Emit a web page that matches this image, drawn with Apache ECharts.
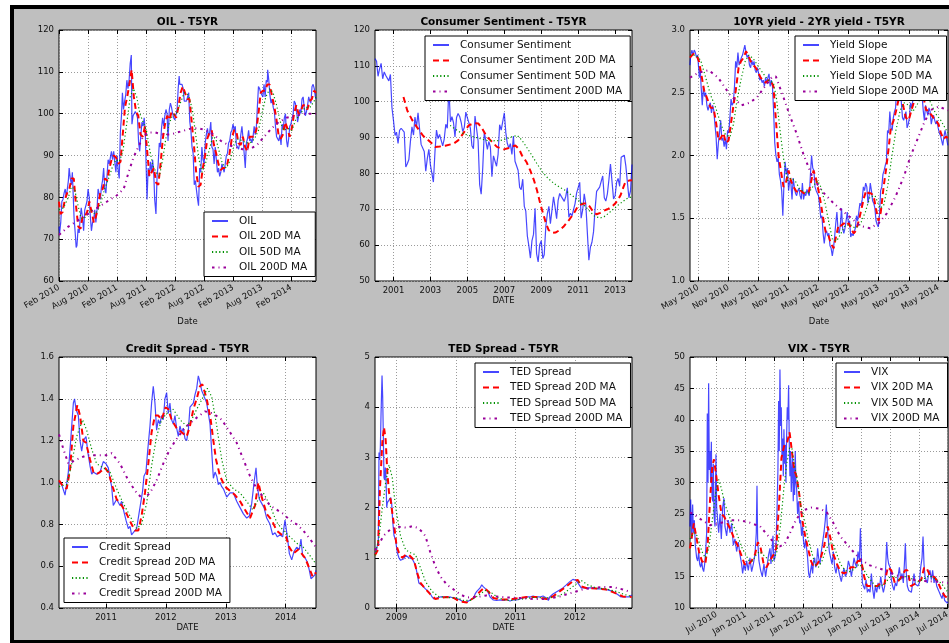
<!DOCTYPE html>
<html>
<head>
<meta charset="utf-8">
<script src="https://cdn.jsdelivr.net/npm/echarts@6/dist/echarts.min.js"></script>
<style>
  html, body { margin: 0; padding: 0; background: #fff; }
  body { width: 949px; height: 643px; position: relative; overflow: hidden; }
  #frame { position: absolute; left: 10px; top: 5px; width: 960px; height: 638px; box-sizing: border-box;
           background: #bfbfbf; border-left: 4.5px solid #000; border-top: 4px solid #000; border-bottom: 3px solid #000; }
  #chart { position: absolute; left: 0; top: 0; width: 949px; height: 643px; }
</style>
</head>
<body>
<div id="frame"></div>
<div id="chart"></div>
<script>
// ---- Dates are 'YYYY-MM-DD' strings or decimal years ----

// OIL (WTI) daily close and moving averages
const oilSpot = [
['2010-02-01',73],['2010-02-05',71.5],['2010-02-12',74],['2010-02-19',79],['2010-02-26',79.5],['2010-03-05',81],['2010-03-12',82],['2010-03-19',80],['2010-03-26',80],
['2010-04-01',84],['2010-04-06',87],['2010-04-13',84.5],['2010-04-20',83],['2010-04-26',86],['2010-05-03',86],['2010-05-07',75],['2010-05-14',71.5],['2010-05-20',68],['2010-05-25',68.5],
['2010-06-01',72.5],['2010-06-08',71.5],['2010-06-14',75],['2010-06-21',77.5],['2010-06-29',75],['2010-07-06',72],['2010-07-13',77],['2010-07-20',77],['2010-07-27',79],
['2010-08-03',82],['2010-08-10',80],['2010-08-17',75.5],['2010-08-24',72],['2010-08-31',74],['2010-09-07',74.5],['2010-09-14',77],['2010-09-21',74],['2010-09-28',77],
['2010-10-05',82],['2010-10-12',82],['2010-10-19',79.5],['2010-10-26',82.5],['2010-11-02',84],['2010-11-09',87],['2010-11-16',82],['2010-11-23',81],['2010-11-30',85],
['2010-12-07',89],['2010-12-14',88],['2010-12-21',89.5],['2010-12-28',91],['2011-01-04',89],['2011-01-11',91],['2011-01-18',91],['2011-01-25',86],['2011-02-01',90],
['2011-02-08',86.5],['2011-02-15',84.5],['2011-02-22',95.5],['2011-03-01',99.5],['2011-03-07',105],['2011-03-14',101],['2011-03-21',103],['2011-03-28',104.5],
['2011-04-04',108],['2011-04-11',106],['2011-04-18',108],['2011-04-25',112],['2011-05-02',114],['2011-05-06',97.5],['2011-05-13',99.5],['2011-05-20',100],['2011-05-27',100.5],
['2011-06-03',100],['2011-06-10',99],['2011-06-17',93],['2011-06-24',91],['2011-07-01',95],['2011-07-08',98],['2011-07-15',97],['2011-07-22',99],['2011-07-29',95.5],
['2011-08-04',86.5],['2011-08-09',79.5],['2011-08-16',87],['2011-08-23',85],['2011-08-30',88.5],['2011-09-06',86],['2011-09-13',89],['2011-09-20',86],['2011-09-26',79.5],
['2011-10-04',76],['2011-10-11',85],['2011-10-18',88],['2011-10-25',93],['2011-11-01',92],['2011-11-08',96.5],['2011-11-15',99],['2011-11-22',97],['2011-11-29',99.5],
['2011-12-06',101],['2011-12-13',100],['2011-12-19',93.5],['2011-12-27',101],['2012-01-03',102.5],['2012-01-10',101.5],['2012-01-17',100],['2012-01-24',99],['2012-01-31',98.5],
['2012-02-07',98.5],['2012-02-14',101],['2012-02-21',106],['2012-02-27',109],['2012-03-02',107],['2012-03-09',107],['2012-03-16',107],['2012-03-23',106],['2012-03-30',103],
['2012-04-06',103],['2012-04-13',103],['2012-04-20',104],['2012-04-27',105],['2012-05-04',98],['2012-05-11',96],['2012-05-18',92],['2012-05-25',90.5],
['2012-06-01',83],['2012-06-08',84],['2012-06-15',84],['2012-06-22',79.5],['2012-06-28',78],['2012-07-05',87],['2012-07-12',86],['2012-07-19',92],['2012-07-26',89],
['2012-08-02',88],['2012-08-09',93],['2012-08-16',95],['2012-08-23',96.5],['2012-08-30',94.5],['2012-09-06',95.5],['2012-09-13',98],['2012-09-20',92],['2012-09-27',91.5],
['2012-10-04',88],['2012-10-11',92],['2012-10-18',92],['2012-10-25',86],['2012-11-01',87],['2012-11-08',85],['2012-11-15',86],['2012-11-22',88],['2012-11-29',88],
['2012-12-06',86],['2012-12-13',86],['2012-12-20',90],['2012-12-27',90.5],['2013-01-03',93],['2013-01-10',93.5],['2013-01-17',95.5],['2013-01-24',96],['2013-01-31',97.5],
['2013-02-07',96],['2013-02-14',97],['2013-02-21',92.5],['2013-02-28',92],['2013-03-07',91.5],['2013-03-14',93],['2013-03-21',93],['2013-03-28',97],
['2013-04-04',94],['2013-04-11',94],['2013-04-18',87],['2013-04-25',93],['2013-05-02',94],['2013-05-09',96],['2013-05-16',93.5],['2013-05-23',94],['2013-05-30',93],
['2013-06-06',94.5],['2013-06-13',97],['2013-06-20',95],['2013-06-27',97],['2013-07-03',101.5],['2013-07-10',106.5],['2013-07-17',106],['2013-07-24',105],['2013-07-31',105],
['2013-08-07',104],['2013-08-14',107],['2013-08-21',104],['2013-08-28',108],['2013-09-04',107.5],['2013-09-06',110.5],['2013-09-13',108],['2013-09-20',104.5],['2013-09-27',102.5],
['2013-10-04',103.5],['2013-10-11',101.5],['2013-10-18',100.5],['2013-10-25',97],['2013-11-01',94.5],['2013-11-08',94.5],['2013-11-15',93.5],['2013-11-22',95],['2013-11-29',92.5],
['2013-12-06',97.5],['2013-12-13',96.5],['2013-12-20',99],['2013-12-27',100],['2014-01-03',93.5],['2014-01-09',92],['2014-01-16',94],['2014-01-23',97],['2014-01-30',97.5],
['2014-02-06',97.5],['2014-02-13',100],['2014-02-20',103],['2014-02-27',102.5],['2014-03-06',101],['2014-03-13',98],['2014-03-20',99.5],['2014-03-27',101],
['2014-04-03',100],['2014-04-10',103.5],['2014-04-17',104],['2014-04-24',101.5],['2014-05-01',99.5],['2014-05-08',100.5],['2014-05-15',102],['2014-05-22',104],['2014-05-29',103],
['2014-06-05',102.5],['2014-06-12',106.5],['2014-06-19',107],['2014-06-26',106],['2014-07-03',104],['2014-07-07',103.5]
];
const oil20 = [
['2010-02-01',79],['2010-02-10',76],['2010-02-24',76.5],['2010-03-10',79.5],['2010-03-24',81],['2010-04-07',82],['2010-04-21',84.5],['2010-05-05',84.5],['2010-05-19',78],
['2010-06-02',73],['2010-06-16',72.5],['2010-06-30',75.5],['2010-07-14',75.5],['2010-07-28',76.5],['2010-08-11',79],['2010-08-25',76.5],['2010-09-08',74],['2010-09-22',75.5],
['2010-10-06',78],['2010-10-20',81.5],['2010-11-03',82],['2010-11-17',84.5],['2010-12-01',84],['2010-12-15',87],['2010-12-29',89],['2011-01-12',90],['2011-01-26',89.5],
['2011-02-09',88],['2011-02-23',88.5],['2011-03-09',95],['2011-03-23',101.5],['2011-04-06',104],['2011-04-20',107],['2011-05-04',110.5],['2011-05-18',104],['2011-06-01',100.5],
['2011-06-15',99.5],['2011-06-29',95],['2011-07-13',94.5],['2011-07-27',97],['2011-08-10',91],['2011-08-24',85],['2011-09-07',86],['2011-09-21',87],['2011-10-05',83.5],
['2011-10-19',83],['2011-11-02',88],['2011-11-16',94],['2011-11-30',97.5],['2011-12-14',99.5],['2011-12-28',98.5],['2012-01-11',100.5],['2012-01-25',100],['2012-02-08',99],
['2012-02-22',101.5],['2012-03-07',105],['2012-03-21',106.5],['2012-04-04',105],['2012-04-18',103.5],['2012-05-02',103.5],['2012-05-16',98],['2012-05-30',92.5],
['2012-06-13',86],['2012-06-27',82.5],['2012-07-11',83],['2012-07-25',87],['2012-08-08',90],['2012-08-22',94],['2012-09-05',95.5],['2012-09-19',96],['2012-10-03',92.5],
['2012-10-17',90.5],['2012-10-31',88],['2012-11-14',86.5],['2012-11-28',87],['2012-12-12',87],['2012-12-26',88],['2013-01-09',90.5],['2013-01-23',94],['2013-02-06',96],
['2013-02-20',96],['2013-03-06',93],['2013-03-20',92.5],['2013-04-03',94.5],['2013-04-17',92],['2013-05-01',91],['2013-05-15',94.5],['2013-05-29',94.5],['2013-06-12',94.5],
['2013-06-26',96],['2013-07-10',100],['2013-07-24',105],['2013-08-07',105.5],['2013-08-21',105.5],['2013-09-04',107],['2013-09-18',107],['2013-10-02',104.5],['2013-10-16',102],
['2013-10-30',99],['2013-11-13',95],['2013-11-27',94],['2013-12-11',95],['2013-12-25',98],['2014-01-08',96.5],['2014-01-22',94.5],['2014-02-05',96.5],['2014-02-19',100],
['2014-03-05',102],['2014-03-19',100],['2014-04-02',100.5],['2014-04-16',102],['2014-04-30',102],['2014-05-14',101],['2014-05-28',103],['2014-06-11',103.5],['2014-06-25',105.5],
['2014-07-07',105]
];
const oil50 = [
['2010-02-01',77],['2010-03-01',77.5],['2010-04-01',80],['2010-04-20',82.5],['2010-05-10',82],['2010-06-01',78],['2010-06-20',75],['2010-07-10',75],['2010-08-01',76],
['2010-08-25',77],['2010-09-15',76],['2010-10-05',77],['2010-10-25',79],['2010-11-15',82],['2010-12-10',84.5],['2011-01-01',87],['2011-01-25',89],['2011-02-15',88.5],
['2011-03-10',91],['2011-04-01',97],['2011-04-25',104],['2011-05-15',106],['2011-06-05',104],['2011-06-25',100],['2011-07-15',98],['2011-08-05',96],['2011-08-25',91.5],
['2011-09-15',87.5],['2011-10-05',86],['2011-10-25',85],['2011-11-15',89],['2011-12-05',94],['2011-12-25',97.5],['2012-01-15',99.5],['2012-02-10',100],['2012-03-05',102.5],
['2012-03-30',105],['2012-04-25',104.5],['2012-05-20',101],['2012-06-10',95],['2012-07-01',89],['2012-07-20',86],['2012-08-10',88],['2012-09-01',91],['2012-09-25',94.5],
['2012-10-15',94],['2012-11-05',91],['2012-11-25',88],['2012-12-20',87],['2013-01-15',89],['2013-02-10',93],['2013-03-05',94],['2013-03-30',93.5],['2013-04-25',93],
['2013-05-20',93],['2013-06-15',94],['2013-07-10',96],['2013-08-01',100],['2013-08-25',104],['2013-09-20',106],['2013-10-10',105],['2013-11-01',102],['2013-11-25',98],
['2013-12-15',96],['2014-01-10',96.5],['2014-02-05',96],['2014-03-01',98.5],['2014-03-30',100],['2014-04-30',101.5],['2014-05-30',101.5],['2014-06-25',103],['2014-07-07',104]
];
const oil200 = [
['2010-02-01',71],['2010-04-01',73],['2010-06-01',74.5],['2010-08-01',76],['2010-10-01',77.5],['2010-12-01',79],['2011-02-01',80.5],['2011-03-15',82],['2011-04-15',86],
['2011-05-15',89.5],['2011-06-15',92],['2011-07-15',94.5],['2011-08-15',95.5],['2011-10-01',95.5],['2011-11-15',95],['2012-01-01',95],['2012-02-15',95.5],['2012-04-01',96],
['2012-05-15',96.5],['2012-07-01',96.5],['2012-08-15',96],['2012-10-01',95],['2012-11-15',93.5],['2013-01-01',92.5],['2013-02-15',92],['2013-04-01',91.5],['2013-05-15',91.5],
['2013-07-01',92.5],['2013-08-15',94.5],['2013-10-01',96.5],['2013-11-15',98],['2014-01-01',99],['2014-03-01',99.5],['2014-05-01',100],['2014-07-07',100]
];

// Consumer Sentiment (monthly) and moving averages
const sentiment = [
['2000-01-01',112.0],['2000-02-01',111.3],['2000-03-01',107.1],['2000-04-01',109.2],['2000-05-01',110.7],['2000-06-01',106.4],['2000-07-01',108.3],['2000-08-01',107.3],['2000-09-01',106.8],['2000-10-01',105.8],['2000-11-01',107.6],['2000-12-01',98.4],
['2001-01-01',94.7],['2001-02-01',90.6],['2001-03-01',91.5],['2001-04-01',88.4],['2001-05-01',92.0],['2001-06-01',92.6],['2001-07-01',92.4],['2001-08-01',91.5],['2001-09-01',81.8],['2001-10-01',82.7],['2001-11-01',83.9],['2001-12-01',88.8],
['2002-01-01',93.0],['2002-02-01',90.7],['2002-03-01',95.7],['2002-04-01',93.0],['2002-05-01',96.9],['2002-06-01',92.4],['2002-07-01',88.1],['2002-08-01',87.6],['2002-09-01',86.1],['2002-10-01',80.6],['2002-11-01',84.2],['2002-12-01',86.7],
['2003-01-01',82.4],['2003-02-01',79.9],['2003-03-01',77.6],['2003-04-01',86.0],['2003-05-01',92.1],['2003-06-01',89.7],['2003-07-01',90.9],['2003-08-01',89.3],['2003-09-01',87.7],['2003-10-01',89.6],['2003-11-01',93.7],['2003-12-01',92.6],
['2004-01-01',103.8],['2004-02-01',94.4],['2004-03-01',95.8],['2004-04-01',94.2],['2004-05-01',90.2],['2004-06-01',95.6],['2004-07-01',96.7],['2004-08-01',95.9],['2004-09-01',94.2],['2004-10-01',91.7],['2004-11-01',92.8],['2004-12-01',97.1],
['2005-01-01',95.5],['2005-02-01',94.1],['2005-03-01',92.6],['2005-04-01',87.7],['2005-05-01',86.9],['2005-06-01',96.0],['2005-07-01',96.5],['2005-08-01',89.1],['2005-09-01',76.9],['2005-10-01',74.2],['2005-11-01',81.6],['2005-12-01',91.5],
['2006-01-01',91.2],['2006-02-01',86.7],['2006-03-01',88.9],['2006-04-01',87.4],['2006-05-01',79.1],['2006-06-01',84.9],['2006-07-01',84.7],['2006-08-01',82.0],['2006-09-01',85.4],['2006-10-01',93.6],['2006-11-01',92.1],['2006-12-01',91.7],
['2007-01-01',96.9],['2007-02-01',91.3],['2007-03-01',88.4],['2007-04-01',87.1],['2007-05-01',88.3],['2007-06-01',85.3],['2007-07-01',90.4],['2007-08-01',83.4],['2007-09-01',83.4],['2007-10-01',80.9],['2007-11-01',76.1],['2007-12-01',75.5],
['2008-01-01',78.4],['2008-02-01',70.8],['2008-03-01',69.5],['2008-04-01',62.6],['2008-05-01',59.8],['2008-06-01',56.4],['2008-07-01',61.2],['2008-08-01',63.0],['2008-09-01',70.3],['2008-10-01',57.6],['2008-11-01',55.3],['2008-12-01',60.1],
['2009-01-01',61.2],['2009-02-01',56.3],['2009-03-01',57.3],['2009-04-01',65.1],['2009-05-01',68.7],['2009-06-01',70.8],['2009-07-01',66.0],['2009-08-01',65.7],['2009-09-01',73.5],['2009-10-01',70.6],['2009-11-01',67.4],['2009-12-01',72.5],
['2010-01-01',74.4],['2010-02-01',73.6],['2010-03-01',73.6],['2010-04-01',72.2],['2010-05-01',73.6],['2010-06-01',76.0],['2010-07-01',67.8],['2010-08-01',68.9],['2010-09-01',68.2],['2010-10-01',67.7],['2010-11-01',71.6],['2010-12-01',74.5],
['2011-01-01',74.2],['2011-02-01',77.5],['2011-03-01',67.5],['2011-04-01',69.8],['2011-05-01',74.3],['2011-06-01',71.5],['2011-07-01',63.7],['2011-08-01',55.8],['2011-09-01',59.5],['2011-10-01',60.8],['2011-11-01',63.7],['2011-12-01',69.9],
['2012-01-01',75.0],['2012-02-01',75.3],['2012-03-01',76.2],['2012-04-01',76.4],['2012-05-01',79.3],['2012-06-01',73.2],['2012-07-01',72.3],['2012-08-01',74.3],['2012-09-01',78.3],['2012-10-01',82.6],['2012-11-01',82.7],['2012-12-01',72.9],
['2013-01-01',73.8],['2013-02-01',77.6],['2013-03-01',78.6],['2013-04-01',76.4],['2013-05-01',84.5],['2013-06-01',84.1],['2013-07-01',85.1],['2013-08-01',82.1],['2013-09-01',77.5],['2013-10-01',73.2],['2013-11-01',75.1],['2013-12-01',82.5]
];
const sentiment20 = [
[2001.54,101.3],[2001.75,97.5],[2002.0,95],[2002.27,92.9],[2002.6,90.5],[2002.99,88.8],[2003.26,87.4],[2003.5,87.5],[2003.8,87.7],[2004.25,88.3],[2004.5,89.2],[2004.7,90.6],
[2005.07,93.4],[2005.35,94],[2005.6,93.9],[2005.8,92.5],[2006.06,90.2],[2006.3,89],[2006.6,87.4],[2006.97,86.7],[2007.2,87],[2007.4,87.4],[2007.6,87.8],[2007.8,86.8],
[2007.96,85],[2008.2,83.2],[2008.4,80.9],[2008.6,78.2],[2008.77,75.3],[2008.95,71.5],[2009.1,68.8],[2009.25,66.2],[2009.4,64.2],[2009.6,63.4],[2009.77,63.5],[2010.0,64.2],
[2010.2,65.1],[2010.5,67],[2010.76,68.8],[2010.95,70.5],[2011.1,71.2],[2011.3,71.6],[2011.48,71.6],[2011.62,70.8],[2011.75,69.8],[2011.88,69],[2012.0,68.6],[2012.2,69],
[2012.4,69.6],[2012.58,70],[2012.75,70.5],[2012.88,71],[2013.0,71.6],[2013.15,72.6],[2013.3,74],[2013.45,76.2],[2013.56,77.6],[2013.75,78],[2013.92,78.1]
];
const sentiment50 = [
[2004.07,93.4],[2004.3,92.5],[2004.6,91.5],[2005.0,90.7],[2005.34,90.2],[2005.7,89.7],[2006.06,89.2],[2006.4,89.1],[2006.8,89.2],[2007.1,89.6],[2007.4,90.2],[2007.7,90.6],
[2007.95,89.3],[2008.2,87.4],[2008.5,85],[2008.77,82.7],[2009.05,80.5],[2009.3,79],[2009.55,77.8],[2009.77,76.9],[2010.05,76],[2010.3,75.3],[2010.55,74.3],[2010.76,73.5],
[2011.05,72.3],[2011.3,71.2],[2011.55,69.9],[2011.75,68.8],[2011.9,68],[2012.0,67.5],[2012.2,67.6],[2012.4,67.9],[2012.65,68.9],[2012.9,70],[2013.15,71.1],[2013.4,72.1],
[2013.65,73],[2013.92,73.5]
];
const sentiment200 = [];

// 10YR yield - 2YR yield and moving averages
const slope = [
['2010-03-11',2.72],['2010-03-16',2.80],['2010-03-23',2.84],['2010-03-30',2.80],['2010-04-06',2.84],['2010-04-13',2.82],['2010-04-20',2.78],['2010-04-27',2.80],['2010-05-04',2.68],
['2010-05-07',2.62],['2010-05-12',2.70],['2010-05-18',2.55],['2010-05-25',2.40],['2010-06-01',2.55],['2010-06-08',2.47],['2010-06-15',2.50],['2010-06-22',2.40],['2010-06-29',2.36],
['2010-07-06',2.40],['2010-07-13',2.42],['2010-07-20',2.34],['2010-07-27',2.40],['2010-08-03',2.36],['2010-08-10',2.25],['2010-08-17',2.15],['2010-08-24',1.97],['2010-08-31',2.10],
['2010-09-07',2.18],['2010-09-14',2.28],['2010-09-21',2.12],['2010-09-28',2.14],['2010-10-05',2.07],['2010-10-12',2.13],['2010-10-19',2.05],['2010-10-26',2.20],['2010-11-02',2.18],
['2010-11-09',2.30],['2010-11-16',2.45],['2010-11-23',2.40],['2010-11-30',2.42],['2010-12-07',2.55],['2010-12-14',2.75],['2010-12-21',2.70],['2010-12-28',2.82],['2011-01-04',2.72],
['2011-01-11',2.75],['2011-01-18',2.78],['2011-01-25',2.80],['2011-02-01',2.80],['2011-02-08',2.88],['2011-02-15',2.82],['2011-02-22',2.78],['2011-03-01',2.80],['2011-03-08',2.72],
['2011-03-15',2.70],['2011-03-22',2.76],['2011-03-29',2.72],['2011-04-05',2.75],['2011-04-12',2.68],['2011-04-19',2.66],['2011-04-26',2.70],['2011-05-03',2.65],['2011-05-10',2.60],
['2011-05-17',2.62],['2011-05-24',2.58],['2011-05-31',2.60],['2011-06-07',2.55],['2011-06-14',2.62],['2011-06-21',2.58],['2011-06-28',2.62],['2011-07-05',2.65],['2011-07-12',2.55],
['2011-07-19',2.60],['2011-07-26',2.55],['2011-08-02',2.35],['2011-08-09',2.10],['2011-08-16',2.00],['2011-08-23',1.95],['2011-08-30',1.98],['2011-09-06',1.85],['2011-09-13',1.80],
['2011-09-20',1.72],['2011-09-27',1.52],['2011-10-04',1.78],['2011-10-11',1.95],['2011-10-18',1.85],['2011-10-25',1.90],['2011-11-01',1.72],['2011-11-08',1.80],['2011-11-15',1.78],
['2011-11-22',1.65],['2011-11-29',1.82],['2011-12-06',1.75],['2011-12-13',1.70],['2011-12-20',1.68],['2011-12-27',1.72],['2012-01-03',1.74],['2012-01-10',1.68],['2012-01-17',1.65],
['2012-01-24',1.78],['2012-01-31',1.65],['2012-02-07',1.70],['2012-02-14',1.68],['2012-02-21',1.73],['2012-02-28',1.70],['2012-03-06',1.68],['2012-03-13',1.85],['2012-03-20',2.00],
['2012-03-27',1.90],['2012-04-03',1.88],['2012-04-10',1.75],['2012-04-17',1.72],['2012-04-24',1.70],['2012-05-01',1.68],['2012-05-08',1.60],['2012-05-15',1.50],['2012-05-22',1.52],
['2012-05-29',1.38],['2012-06-05',1.30],['2012-06-12',1.38],['2012-06-19',1.40],['2012-06-26',1.36],['2012-07-03',1.38],['2012-07-10',1.28],['2012-07-17',1.26],['2012-07-24',1.20],
['2012-07-31',1.26],['2012-08-07',1.35],['2012-08-14',1.46],['2012-08-21',1.55],['2012-08-28',1.40],['2012-09-04',1.38],['2012-09-11',1.45],['2012-09-18',1.58],['2012-09-25',1.42],
['2012-10-02',1.38],['2012-10-09',1.42],['2012-10-16',1.48],['2012-10-23',1.55],['2012-10-30',1.46],['2012-11-06',1.48],['2012-11-13',1.35],['2012-11-20',1.38],['2012-11-27',1.36],
['2012-12-04',1.35],['2012-12-11',1.42],['2012-12-18',1.52],['2012-12-25',1.48],['2013-01-01',1.55],['2013-01-08',1.62],['2013-01-15',1.60],['2013-01-22',1.65],['2013-01-29',1.75],
['2013-02-05',1.72],['2013-02-12',1.78],['2013-02-19',1.75],['2013-02-26',1.62],['2013-03-05',1.68],['2013-03-12',1.78],['2013-03-19',1.72],['2013-03-26',1.64],['2013-04-02',1.62],
['2013-04-09',1.58],['2013-04-16',1.48],['2013-04-23',1.45],['2013-04-30',1.43],['2013-05-07',1.53],['2013-05-14',1.72],['2013-05-21',1.75],['2013-05-28',1.85],['2013-06-04',1.88],
['2013-06-11',1.92],['2013-06-18',1.95],['2013-06-25',2.20],['2013-07-02',2.18],['2013-07-09',2.35],['2013-07-16',2.22],['2013-07-23',2.20],['2013-07-30',2.30],['2013-08-06',2.35],
['2013-08-13',2.38],['2013-08-20',2.55],['2013-08-27',2.42],['2013-09-03',2.50],['2013-09-10',2.56],['2013-09-17',2.42],['2013-09-24',2.30],['2013-10-01',2.28],['2013-10-08',2.32],
['2013-10-15',2.35],['2013-10-22',2.22],['2013-10-29',2.25],['2013-11-05',2.30],['2013-11-12',2.42],['2013-11-19',2.38],['2013-11-26',2.44],['2013-12-03',2.50],['2013-12-10',2.46],
['2013-12-17',2.55],['2013-12-24',2.62],['2013-12-31',2.62],['2014-01-07',2.58],['2014-01-14',2.52],['2014-01-21',2.48],['2014-01-28',2.36],['2014-02-04',2.28],['2014-02-11',2.40],
['2014-02-18',2.40],['2014-02-25',2.32],['2014-03-04',2.38],['2014-03-11',2.35],['2014-03-18',2.25],['2014-03-25',2.30],['2014-04-01',2.32],['2014-04-08',2.28],['2014-04-15',2.25],
['2014-04-22',2.28],['2014-04-29',2.22],['2014-05-06',2.18],['2014-05-13',2.16],['2014-05-20',2.12],['2014-05-27',2.08],['2014-06-03',2.15],['2014-06-10',2.20],['2014-06-17',2.15],
['2014-06-24',2.10],['2014-06-27',2.08]
];
const slope20 = [
['2010-03-11',2.78],['2010-04-01',2.81],['2010-04-20',2.80],['2010-05-05',2.75],['2010-05-20',2.64],['2010-06-05',2.52],['2010-06-25',2.45],['2010-07-15',2.38],['2010-08-01',2.38],
['2010-08-15',2.28],['2010-09-01',2.12],['2010-09-15',2.14],['2010-10-01',2.18],['2010-10-15',2.10],['2010-11-01',2.12],['2010-11-15',2.25],['2010-12-01',2.40],['2010-12-15',2.52],
['2011-01-01',2.70],['2011-01-15',2.75],['2011-02-01',2.78],['2011-02-15',2.83],['2011-03-01',2.80],['2011-03-15',2.75],['2011-04-01',2.72],['2011-04-15',2.70],['2011-05-01',2.66],
['2011-05-15',2.62],['2011-06-01',2.60],['2011-06-15',2.58],['2011-07-01',2.60],['2011-07-15',2.60],['2011-08-01',2.55],['2011-08-15',2.30],['2011-09-01',2.00],['2011-09-15',1.88],
['2011-10-01',1.75],['2011-10-15',1.78],['2011-11-01',1.88],['2011-11-15',1.80],['2011-12-01',1.75],['2011-12-15',1.72],['2012-01-01',1.70],['2012-01-15',1.72],['2012-02-01',1.70],
['2012-02-15',1.70],['2012-03-01',1.70],['2012-03-15',1.78],['2012-04-01',1.88],['2012-04-15',1.82],['2012-05-01',1.72],['2012-05-15',1.62],['2012-06-01',1.48],['2012-06-15',1.38],
['2012-07-01',1.36],['2012-07-15',1.30],['2012-08-01',1.26],['2012-08-15',1.35],['2012-09-01',1.45],['2012-09-15',1.44],['2012-10-01',1.46],['2012-10-15',1.44],['2012-11-01',1.46],
['2012-11-15',1.42],['2012-12-01',1.38],['2012-12-15',1.40],['2013-01-01',1.48],['2013-01-15',1.56],['2013-02-01',1.66],['2013-02-15',1.72],['2013-03-01',1.70],['2013-03-15',1.70],
['2013-04-01',1.68],['2013-04-15',1.58],['2013-05-01',1.48],['2013-05-15',1.55],['2013-06-01',1.75],['2013-06-15',1.88],['2013-07-01',2.05],['2013-07-15',2.22],['2013-08-01',2.28],
['2013-08-15',2.35],['2013-09-01',2.45],['2013-09-15',2.48],['2013-10-01',2.38],['2013-10-15',2.30],['2013-11-01',2.28],['2013-11-15',2.35],['2013-12-01',2.42],['2013-12-15',2.50],
['2014-01-01',2.57],['2014-01-15',2.56],['2014-02-01',2.45],['2014-02-15',2.36],['2014-03-01',2.36],['2014-03-15',2.33],['2014-04-01',2.30],['2014-04-15',2.28],['2014-05-01',2.25],
['2014-05-15',2.18],['2014-06-01',2.13],['2014-06-15',2.15],['2014-06-27',2.14]
];
const slope50 = [
['2010-03-11',2.80],['2010-04-15',2.80],['2010-05-15',2.76],['2010-06-15',2.62],['2010-07-15',2.48],['2010-08-15',2.38],['2010-09-15',2.25],['2010-10-15',2.16],['2010-11-10',2.15],
['2010-12-01',2.25],['2010-12-20',2.42],['2011-01-15',2.60],['2011-02-10',2.75],['2011-03-05',2.80],['2011-04-01',2.77],['2011-05-01',2.71],['2011-06-01',2.65],['2011-07-01',2.60],
['2011-08-01',2.58],['2011-08-20',2.45],['2011-09-10',2.20],['2011-10-01',1.98],['2011-10-25',1.80],['2011-11-15',1.82],['2011-12-10',1.80],['2012-01-05',1.74],['2012-02-01',1.71],
['2012-03-01',1.70],['2012-04-01',1.76],['2012-04-25',1.80],['2012-05-15',1.75],['2012-06-10',1.62],['2012-07-01',1.48],['2012-07-25',1.33],['2012-08-20',1.32],['2012-09-15',1.38],
['2012-10-10',1.44],['2012-11-10',1.45],['2012-12-10',1.42],['2013-01-10',1.45],['2013-02-10',1.55],['2013-03-10',1.67],['2013-04-10',1.68],['2013-05-10',1.58],['2013-06-01',1.60],
['2013-06-25',1.75],['2013-07-20',1.98],['2013-08-15',2.20],['2013-09-10',2.36],['2013-10-05',2.42],['2013-11-01',2.40],['2013-11-25',2.35],['2013-12-20',2.40],['2014-01-20',2.48],
['2014-02-15',2.48],['2014-03-15',2.42],['2014-04-15',2.33],['2014-05-15',2.28],['2014-06-27',2.18]
];
const slope200 = [
[2010.19,2.62],[2010.33,2.66],[2010.50,2.68],[2010.66,2.62],[2010.86,2.48],[2011.05,2.40],[2011.18,2.42],[2011.30,2.46],[2011.47,2.57],[2011.55,2.62],[2011.62,2.63],
[2011.75,2.46],[2011.86,2.31],[2011.97,2.17],[2012.08,2.01],[2012.22,1.84],[2012.38,1.72],[2012.58,1.62],[2012.75,1.55],[2012.88,1.50],[2013.02,1.44],[2013.19,1.42],
[2013.33,1.46],[2013.47,1.54],[2013.61,1.67],[2013.75,1.83],[2013.86,1.99],[2013.97,2.12],[2014.08,2.25],[2014.19,2.36],[2014.33,2.39],[2014.49,2.36]
];

// Credit Spread and moving averages
const credit = [
[2010.215,1.00],[2010.260,0.99],[2010.316,0.94],[2010.371,1.05],[2010.410,1.20],[2010.455,1.38],[2010.475,1.40],[2010.499,1.35],[2010.538,1.32],[2010.566,1.20],[2010.594,1.15],
[2010.622,1.20],[2010.666,1.22],[2010.694,1.15],[2010.733,1.08],[2010.761,1.04],[2010.789,1.05],[2010.844,1.04],[2010.900,1.05],[2010.955,1.10],[2011.000,1.09],[2011.039,1.07],
[2011.067,1.02],[2011.095,0.98],[2011.122,0.89],[2011.150,0.89],[2011.178,0.92],[2011.234,0.89],[2011.262,0.91],[2011.300,0.86],[2011.334,0.82],[2011.373,0.78],[2011.401,0.79],
[2011.428,0.75],[2011.456,0.76],[2011.512,0.78],[2011.551,0.85],[2011.579,0.90],[2011.612,0.96],[2011.634,1.03],[2011.668,1.05],[2011.696,1.15],[2011.735,1.27],[2011.762,1.38],
[2011.790,1.46],[2011.818,1.38],[2011.846,1.25],[2011.874,1.30],[2011.902,1.28],[2011.929,1.32],[2011.957,1.30],[2011.985,1.40],[2012.013,1.43],[2012.041,1.33],[2012.068,1.38],
[2012.096,1.30],[2012.124,1.28],[2012.152,1.32],[2012.180,1.26],[2012.208,1.22],[2012.235,1.27],[2012.263,1.24],[2012.291,1.26],[2012.319,1.21],[2012.347,1.20],[2012.375,1.25],
[2012.402,1.36],[2012.430,1.37],[2012.458,1.38],[2012.486,1.42],[2012.514,1.45],[2012.541,1.51],[2012.569,1.48],[2012.597,1.44],[2012.625,1.42],[2012.653,1.40],[2012.681,1.38],
[2012.708,1.33],[2012.736,1.28],[2012.764,1.15],[2012.792,1.02],[2012.820,1.05],[2012.848,1.03],[2012.875,0.99],[2012.903,1.00],[2012.931,0.98],[2012.959,0.97],[2013.014,0.93],
[2013.070,0.95],[2013.126,0.95],[2013.181,0.91],[2013.237,0.88],[2013.293,0.85],[2013.348,0.83],[2013.393,0.84],[2013.432,0.90],[2013.471,1.00],[2013.504,1.07],[2013.526,0.98],
[2013.560,0.92],[2013.599,0.90],[2013.638,0.88],[2013.682,0.83],[2013.738,0.80],[2013.782,0.75],[2013.821,0.76],[2013.860,0.74],[2013.905,0.75],[2013.949,0.74],[2013.988,0.82],
[2014.027,0.74],[2014.061,0.66],[2014.100,0.63],[2014.139,0.67],[2014.183,0.69],[2014.228,0.68],[2014.255,0.73],[2014.283,0.65],[2014.322,0.64],[2014.361,0.62],[2014.395,0.58],
[2014.422,0.54],[2014.461,0.55],[2014.489,0.56],[2014.506,0.58]
];
const credit20 = [
[2010.215,1.01],[2010.288,0.98],[2010.343,0.97],[2010.399,1.06],[2010.455,1.27],[2010.521,1.37],[2010.566,1.32],[2010.622,1.20],[2010.666,1.19],[2010.733,1.11],[2010.789,1.05],
[2010.844,1.04],[2010.900,1.05],[2010.983,1.07],[2011.039,1.05],[2011.111,0.98],[2011.178,0.92],[2011.262,0.89],[2011.345,0.85],[2011.428,0.80],[2011.484,0.77],[2011.540,0.77],
[2011.595,0.84],[2011.651,0.95],[2011.707,1.09],[2011.762,1.24],[2011.818,1.32],[2011.874,1.32],[2011.929,1.30],[2011.996,1.36],[2012.041,1.35],[2012.096,1.30],[2012.180,1.26],
[2012.263,1.24],[2012.347,1.22],[2012.402,1.27],[2012.458,1.35],[2012.514,1.40],[2012.569,1.46],[2012.608,1.47],[2012.681,1.40],[2012.747,1.30],[2012.792,1.20],[2012.836,1.11],
[2012.903,1.03],[2012.987,0.98],[2013.070,0.96],[2013.154,0.94],[2013.237,0.91],[2013.320,0.87],[2013.404,0.83],[2013.487,0.89],[2013.543,1.00],[2013.599,0.93],[2013.682,0.85],
[2013.766,0.82],[2013.849,0.77],[2013.933,0.75],[2014.005,0.74],[2014.061,0.69],[2014.128,0.66],[2014.211,0.68],[2014.267,0.66],[2014.322,0.64],[2014.395,0.59],[2014.450,0.55],
[2014.506,0.57]
];
const credit50 = [
[2010.215,0.98],[2010.343,0.99],[2010.427,1.09],[2010.510,1.22],[2010.610,1.30],[2010.677,1.25],[2010.761,1.16],[2010.844,1.09],[2010.955,1.07],[2011.067,1.05],[2011.178,0.97],
[2011.289,0.90],[2011.401,0.84],[2011.512,0.78],[2011.595,0.80],[2011.679,0.90],[2011.762,1.08],[2011.846,1.22],[2011.929,1.30],[2012.013,1.33],[2012.124,1.35],[2012.235,1.30],
[2012.347,1.27],[2012.430,1.30],[2012.514,1.35],[2012.625,1.41],[2012.692,1.45],[2012.764,1.41],[2012.848,1.27],[2012.931,1.11],[2013.014,1.01],[2013.126,0.97],[2013.237,0.95],
[2013.348,0.91],[2013.449,0.87],[2013.543,0.92],[2013.627,0.95],[2013.738,0.89],[2013.849,0.81],[2013.960,0.77],[2014.072,0.74],[2014.183,0.71],[2014.294,0.69],[2014.406,0.65],
[2014.506,0.61]
];
const credit200 = [
[2010.215,1.23],[2010.288,1.16],[2010.371,1.09],[2010.510,1.11],[2010.677,1.13],[2010.844,1.13],[2011.000,1.13],[2011.095,1.14],[2011.234,1.09],[2011.373,1.01],[2011.512,0.95],
[2011.623,0.92],[2011.735,0.95],[2011.846,1.01],[2011.957,1.09],[2012.068,1.16],[2012.208,1.22],[2012.347,1.27],[2012.514,1.31],[2012.653,1.34],[2012.792,1.33],[2012.931,1.30],
[2013.070,1.24],[2013.181,1.19],[2013.293,1.11],[2013.404,1.03],[2013.515,0.97],[2013.627,0.93],[2013.738,0.89],[2013.849,0.87],[2013.960,0.85],[2014.072,0.82],[2014.183,0.80],
[2014.294,0.77],[2014.406,0.73],[2014.506,0.69]
];

// TED Spread and moving averages
const ted = [
[2008.637,1.08],[2008.654,1.12],[2008.677,1.25],[2008.693,1.35],[2008.704,3.10],[2008.716,2.95],[2008.727,3.20],[2008.738,3.85],[2008.755,4.63],[2008.766,4.20],[2008.777,3.40],
[2008.788,2.60],[2008.799,2.55],[2008.810,2.80],[2008.822,2.60],[2008.833,2.00],[2008.844,2.10],[2008.872,2.15],[2008.900,2.20],[2008.916,2.10],[2008.933,1.75],[2008.955,1.45],
[2008.983,1.35],[2009.011,1.10],[2009.039,1.00],[2009.067,0.95],[2009.095,0.93],[2009.123,0.98],[2009.151,1.05],[2009.178,1.08],[2009.206,1.00],[2009.234,1.02],[2009.262,0.98],
[2009.290,0.97],[2009.318,0.85],[2009.346,0.68],[2009.374,0.50],[2009.402,0.48],[2009.429,0.45],[2009.457,0.42],[2009.485,0.38],[2009.513,0.35],[2009.541,0.32],[2009.569,0.28],
[2009.597,0.22],[2009.625,0.18],[2009.653,0.18],[2009.680,0.20],[2009.736,0.22],[2009.792,0.22],[2009.848,0.21],[2009.904,0.22],[2009.959,0.20],[2010.015,0.19],[2010.071,0.16],
[2010.127,0.12],[2010.182,0.12],[2010.238,0.16],[2010.294,0.20],[2010.322,0.28],[2010.350,0.33],[2010.378,0.36],[2010.405,0.40],[2010.433,0.46],[2010.461,0.42],[2010.489,0.40],
[2010.517,0.36],[2010.545,0.30],[2010.573,0.22],[2010.629,0.16],[2010.684,0.15],[2010.740,0.16],[2010.796,0.15],[2010.852,0.17],[2010.907,0.14],[2010.963,0.16],[2011.019,0.16],
[2011.075,0.18],[2011.131,0.20],[2011.186,0.22],[2011.242,0.22],[2011.298,0.24],[2011.354,0.22],[2011.409,0.22],[2011.465,0.24],[2011.521,0.20],[2011.554,0.15],[2011.577,0.22],
[2011.632,0.28],[2011.688,0.32],[2011.744,0.36],[2011.800,0.40],[2011.856,0.46],[2011.911,0.52],[2011.967,0.57],[2011.995,0.58],[2012.023,0.55],[2012.079,0.45],[2012.107,0.40],
[2012.162,0.40],[2012.218,0.40],[2012.302,0.40],[2012.385,0.38],[2012.469,0.38],[2012.553,0.36],[2012.636,0.33],[2012.720,0.27],[2012.776,0.22],[2012.804,0.20],[2012.859,0.22],
[2012.915,0.22],[2012.954,0.26]
];
const ted20 = [
[2008.637,1.05],[2008.688,1.16],[2008.721,2.40],[2008.760,3.30],[2008.788,3.60],[2008.816,3.35],[2008.844,2.70],[2008.872,2.30],[2008.900,2.15],[2008.927,1.90],[2008.967,1.56],
[2009.000,1.23],[2009.039,1.10],[2009.095,1.00],[2009.151,1.06],[2009.206,1.06],[2009.290,0.96],[2009.346,0.70],[2009.402,0.50],[2009.485,0.38],[2009.569,0.27],[2009.653,0.18],
[2009.736,0.20],[2009.848,0.22],[2009.959,0.20],[2010.071,0.13],[2010.182,0.11],[2010.294,0.20],[2010.405,0.33],[2010.472,0.40],[2010.545,0.33],[2010.629,0.20],[2010.740,0.17],
[2010.852,0.17],[2010.963,0.18],[2011.075,0.20],[2011.186,0.22],[2011.354,0.22],[2011.521,0.18],[2011.632,0.23],[2011.744,0.33],[2011.856,0.43],[2011.967,0.53],[2012.051,0.56],
[2012.107,0.43],[2012.190,0.40],[2012.358,0.39],[2012.525,0.37],[2012.692,0.29],[2012.804,0.23],[2012.954,0.22]
];
const ted50 = [
[2008.637,1.05],[2008.704,1.40],[2008.760,2.00],[2008.816,2.50],[2008.872,2.85],[2008.900,2.85],[2008.927,2.60],[2008.983,2.00],[2009.067,1.43],[2009.151,1.16],[2009.234,1.10],
[2009.318,1.06],[2009.402,0.80],[2009.485,0.53],[2009.597,0.33],[2009.708,0.23],[2009.848,0.21],[2010.015,0.20],[2010.127,0.15],[2010.238,0.15],[2010.350,0.23],[2010.489,0.35],
[2010.601,0.30],[2010.712,0.20],[2010.852,0.15],[2011.075,0.17],[2011.298,0.21],[2011.521,0.20],[2011.688,0.22],[2011.828,0.30],[2011.967,0.43],[2012.107,0.55],[2012.218,0.46],
[2012.358,0.40],[2012.525,0.38],[2012.692,0.33],[2012.832,0.27],[2012.954,0.23]
];
const ted200 = [
[2008.637,1.15],[2008.704,1.28],[2008.788,1.45],[2008.900,1.57],[2009.011,1.62],[2009.178,1.60],[2009.262,1.63],[2009.346,1.60],[2009.429,1.52],[2009.485,1.43],[2009.569,1.10],
[2009.653,0.83],[2009.736,0.63],[2009.848,0.46],[2009.959,0.37],[2010.071,0.27],[2010.182,0.21],[2010.350,0.22],[2010.517,0.25],[2010.684,0.23],[2010.852,0.21],[2011.075,0.20],
[2011.298,0.18],[2011.521,0.18],[2011.744,0.23],[2011.967,0.31],[2012.135,0.37],[2012.302,0.40],[2012.469,0.42],[2012.636,0.42],[2012.804,0.37],[2012.954,0.31]
];

// VIX and moving averages
const vix = [
[2010.034,23],[2010.046,27.3],[2010.063,21],[2010.080,26.5],[2010.092,22],[2010.109,24],[2010.126,20],[2010.149,18],[2010.167,17.5],[2010.184,19],[2010.201,17],[2010.219,16.5],
[2010.236,17.5],[2010.253,16.3],[2010.271,15.8],[2010.288,17],[2010.305,19],[2010.323,22],[2010.334,41],[2010.346,30],[2010.357,45.8],[2010.369,32],[2010.380,35],[2010.392,30],
[2010.404,36.5],[2010.415,28],[2010.427,27],[2010.438,33],[2010.450,25],[2010.467,23],[2010.484,34.5],[2010.496,26],[2010.513,24],[2010.531,22],[2010.554,25],[2010.577,21],
[2010.600,26],[2010.623,27.5],[2010.640,23],[2010.669,21.5],[2010.698,24],[2010.727,22],[2010.756,23.5],[2010.785,20],[2010.814,21],[2010.842,19],[2010.871,20.5],[2010.900,18.5],
[2010.929,17],[2010.946,15.5],[2010.969,17],[2010.992,16],[2011.016,17.5],[2011.044,16],[2011.073,18],[2011.102,15.8],[2011.131,17],[2011.160,18.5],[2011.183,22],[2011.195,29.5],
[2011.206,21],[2011.229,17.5],[2011.258,16],[2011.287,15],[2011.316,17],[2011.345,15],[2011.374,17],[2011.397,18.5],[2011.420,19.5],[2011.437,17],[2011.454,19],[2011.472,21.5],
[2011.489,17.5],[2011.506,18],[2011.524,20],[2011.541,25],[2011.558,32],[2011.570,43],[2011.581,35],[2011.593,48],[2011.605,39],[2011.616,42],[2011.628,34],[2011.639,37],
[2011.651,31],[2011.662,38.5],[2011.674,33],[2011.685,36],[2011.697,30],[2011.708,37],[2011.720,42],[2011.731,40],[2011.743,45.5],[2011.755,36],[2011.766,31],[2011.778,35],
[2011.789,28.5],[2011.801,32],[2011.812,34],[2011.824,27],[2011.835,32.5],[2011.847,28],[2011.858,35],[2011.870,30],[2011.882,29],[2011.899,25],[2011.916,27],[2011.934,23.5],
[2011.951,24],[2011.968,21.5],[2011.986,23],[2012.003,20.5],[2012.020,19.5],[2012.038,21],[2012.055,19.5],[2012.072,18],[2012.090,15.5],[2012.107,14.8],[2012.124,16],[2012.142,17],
[2012.159,15.5],[2012.176,17.5],[2012.194,18],[2012.211,16.5],[2012.228,17],[2012.245,19.5],[2012.263,18],[2012.286,17],[2012.309,19],[2012.332,20.5],[2012.355,22],[2012.378,24],
[2012.396,26.5],[2012.413,23],[2012.430,21],[2012.448,19],[2012.471,18],[2012.494,17],[2012.517,19],[2012.540,16.5],[2012.563,15.5],[2012.586,17],[2012.609,16],[2012.632,15],
[2012.655,14.2],[2012.678,15.5],[2012.702,16.3],[2012.725,15],[2012.748,15.5],[2012.777,17.5],[2012.806,16.5],[2012.829,15],[2012.852,16.5],[2012.875,18],[2012.898,17],[2012.921,16.5],
[2012.944,19],[2012.967,17.5],[2012.985,22.7],[2013.002,18],[2013.019,14],[2013.037,13.5],[2013.060,13],[2013.083,14.5],[2013.106,12.5],[2013.129,13],[2013.152,12.5],[2013.175,15.5],
[2013.198,13],[2013.221,11.5],[2013.244,13.5],[2013.268,12.5],[2013.291,14],[2013.314,13],[2013.337,15],[2013.360,13.5],[2013.383,12.5],[2013.406,13.5],[2013.423,16.5],[2013.441,20.5],
[2013.458,18],[2013.475,17],[2013.498,16.5],[2013.521,14.5],[2013.544,13.5],[2013.567,12.8],[2013.590,14],[2013.613,13.5],[2013.637,15],[2013.660,16.5],[2013.683,14.5],[2013.706,15.5],
[2013.729,14],[2013.747,17],[2013.764,20.3],[2013.781,15.5],[2013.798,13.5],[2013.822,12.8],[2013.845,13],[2013.868,12.5],[2013.891,14],[2013.914,15.5],[2013.937,13.8],[2013.960,14],
[2013.983,13.5],[2014.006,14],[2014.030,16.5],[2014.053,18],[2014.070,21.4],[2014.087,17],[2014.105,15],[2014.122,14.5],[2014.145,14],[2014.168,15.5],[2014.191,16],[2014.214,14.5],
[2014.237,16],[2014.261,14],[2014.284,15],[2014.307,13.5],[2014.330,13],[2014.353,12.5],[2014.376,12],[2014.399,11.5],[2014.422,12.5],[2014.445,11.2],[2014.468,11],[2014.490,10.8],
[2014.503,11]
];
const vix20 = [
[2010.034,19.5],[2010.06,21],[2010.10,23.5],[2010.14,21.5],[2010.19,19],[2010.24,17.5],[2010.30,17],[2010.34,20],[2010.38,27],[2010.42,32.5],[2010.45,33.7],[2010.49,31],
[2010.53,28],[2010.58,25],[2010.63,24.5],[2010.68,23.5],[2010.74,22.5],[2010.80,21],[2010.86,20],[2010.92,18.5],[2010.98,17],[2011.04,16.8],[2011.10,17.5],[2011.16,18.5],
[2011.21,20.5],[2011.26,19.5],[2011.31,17],[2011.36,16.5],[2011.42,17.5],[2011.48,18.5],[2011.53,19.5],[2011.58,27],[2011.62,34],[2011.67,36],[2011.72,36.5],[2011.76,38],
[2011.80,35],[2011.84,32],[2011.88,31],[2011.93,28],[2011.98,24],[2012.03,21.5],[2012.08,19.5],[2012.13,17.5],[2012.18,16.5],[2012.24,17],[2012.30,18],[2012.36,20],[2012.42,23],
[2012.47,21],[2012.52,18.5],[2012.58,17],[2012.64,15.8],[2012.70,15.5],[2012.76,15.8],[2012.82,16.5],[2012.88,16.5],[2012.94,17.5],[2013.00,17.5],[2013.05,15],[2013.10,13.5],
[2013.16,13.5],[2013.22,13.5],[2013.28,13.5],[2013.34,14],[2013.40,13.8],[2013.46,16.5],[2013.52,16],[2013.58,14],[2013.64,14.3],[2013.70,15],[2013.76,16],[2013.80,16],
[2013.86,13.5],[2013.92,13.8],[2013.98,14.2],[2014.04,14.5],[2014.09,16.5],[2014.14,16.2],[2014.20,15],[2014.26,15],[2014.32,14.3],[2014.38,13],[2014.44,12],[2014.503,11.5]
];
const vix50 = [
[2010.034,21],[2010.10,22],[2010.16,21.5],[2010.24,19],[2010.30,18],[2010.36,19.5],[2010.42,24],[2010.48,28.5],[2010.53,30.5],[2010.58,29],[2010.64,26.5],[2010.70,25],
[2010.76,23.5],[2010.82,22.5],[2010.88,21],[2010.94,19.5],[2011.00,18.5],[2011.06,17.5],[2011.12,17.5],[2011.18,18.5],[2011.24,19],[2011.30,18.5],[2011.36,18],[2011.42,17.5],
[2011.48,17.5],[2011.54,19],[2011.60,23],[2011.66,29],[2011.71,33],[2011.76,35.5],[2011.80,35.5],[2011.84,33],[2011.90,30],[2011.96,26],[2012.02,24],[2012.08,21],[2012.14,19],
[2012.20,17],[2012.26,16.5],[2012.32,17.5],[2012.40,19.5],[2012.46,20.5],[2012.52,20],[2012.58,18.5],[2012.64,17],[2012.72,16],[2012.80,15.8],[2012.88,16.2],[2012.96,17],
[2013.02,16.5],[2013.08,15.5],[2013.16,14.5],[2013.24,13.5],[2013.34,13.5],[2013.42,14],[2013.50,15],[2013.58,15],[2013.66,14.5],[2013.74,15],[2013.82,15],[2013.90,14.5],
[2013.98,14.2],[2014.06,14.5],[2014.14,15],[2014.22,15],[2014.30,14.5],[2014.38,14],[2014.46,13],[2014.503,12.5]
];
const vix200 = [
[2010.034,25.2],[2010.09,25],[2010.24,24],[2010.38,23.2],[2010.55,23.5],[2010.73,24],[2010.90,24],[2011.07,23.6],[2011.25,23],[2011.36,21.8],[2011.48,20.5],[2011.59,19.8],
[2011.68,20.3],[2011.77,22],[2011.88,24.2],[2012.00,25.6],[2012.14,26],[2012.29,25.8],[2012.40,25.3],[2012.52,23.5],[2012.63,21.5],[2012.81,19.5],[2012.98,17.8],[2013.15,16.8],
[2013.38,16.1],[2013.61,15.2],[2013.84,14.6],[2014.08,14.3],[2014.31,14.2],[2014.503,14]
];

// Tick positions / labels on the date axes
const oilTicks = ['2010-02-01','2010-08-01','2011-02-01','2011-08-01','2012-02-01','2012-08-01','2013-02-01','2013-08-01','2014-02-01'];
const sentimentTicks = ['2001-01-01','2003-01-01','2005-01-01','2007-01-01','2009-01-01','2011-01-01','2013-01-01'];
const slopeTicks = ['2010-05-01','2010-11-01','2011-05-01','2011-11-01','2012-05-01','2012-11-01','2013-05-01','2013-11-01','2014-05-01'];
const creditTicks = ['2011-01-01','2012-01-01','2013-01-01','2014-01-01'];
const tedTicks = ['2009-01-01','2010-01-01','2011-01-01','2012-01-01'];
const vixTicks = ['2010-07-01','2011-01-01','2011-07-01','2012-01-01','2012-07-01','2013-01-01','2013-07-01','2014-01-01','2014-07-01'];

// ---- helpers ----
const FONT = 'DejaVu Sans';
const MON = ['Jan','Feb','Mar','Apr','May','Jun','Jul','Aug','Sep','Oct','Nov','Dec'];
function toMs(x) {
  if (typeof x === 'string') {
    const p = x.split('-').map(Number);
    return Date.UTC(p[0], p[1] - 1, p[2] || 1);
  }
  const y = Math.floor(x);
  const a = Date.UTC(y, 0, 1), b = Date.UTC(y + 1, 0, 1);
  return a + (x - y) * (b - a);
}
const pts = arr => arr.map(d => [toMs(d[0]), d[1]]);
const fmtMonth = v => { const d = new Date(v); return MON[d.getUTCMonth()] + ' ' + d.getUTCFullYear(); };
const fmtYear = v => String(new Date(v).getUTCFullYear());

const LINE_STYLES = [
  { color: '#0000ff', width: 1.2, type: 'solid', opacity: 0.72 },
  { color: '#ff0000', width: 2, type: [6, 4], opacity: 1 },
  { color: '#009000', width: 1.2, type: [1.2, 2.4], opacity: 1 },
  { color: '#990099', width: 2, type: [2.5, 4, 1, 4], opacity: 1 }
];

const panels = [
  { title: 'OIL - T5YR', left: 59, top: 30, w: 257, h: 251, xName: 'Date', nameGap: 36, rotate: 30,
    xMin: '2010-02-01', xMax: '2014-07-07', ticks: oilTicks, fmt: fmtMonth,
    yMin: 60, yMax: 120, yStep: 10, dec: 0, legend: [204, 212],
    series: [['OIL', oilSpot], ['OIL 20D MA', oil20], ['OIL 50D MA', oil50], ['OIL 200D MA', oil200]] },
  { title: 'Consumer Sentiment - T5YR', left: 375, top: 30, w: 257, h: 251, xName: 'DATE', nameGap: 14, rotate: 0,
    xMin: '2000-01-01', xMax: '2013-12-01', ticks: sentimentTicks, fmt: fmtYear,
    yMin: 50, yMax: 120, yStep: 10, dec: 0, legend: [425, 36],
    series: [['Consumer Sentiment', sentiment], ['Consumer Sentiment 20D MA', sentiment20], ['Consumer Sentiment 50D MA', sentiment50], ['Consumer Sentiment 200D MA', sentiment200]] },
  { title: '10YR yield - 2YR yield - T5YR', left: 690, top: 30, w: 258, h: 251, xName: 'Date', nameGap: 36, rotate: 30,
    xMin: 2010.19, xMax: 2014.487, ticks: slopeTicks, fmt: fmtMonth,
    yMin: 1.0, yMax: 3.0, yStep: 0.5, dec: 1, legend: [795, 36],
    series: [['Yield Slope', slope], ['Yield Slope 20D MA', slope20], ['Yield Slope 50D MA', slope50], ['Yield Slope 200D MA', slope200]] },
  { title: 'Credit Spread - T5YR', left: 59, top: 357, w: 257, h: 251, xName: 'DATE', nameGap: 14, rotate: 0,
    xMin: 2010.215, xMax: 2014.506, ticks: creditTicks, fmt: fmtYear,
    yMin: 0.4, yMax: 1.6, yStep: 0.2, dec: 1, legend: [64, 538],
    series: [['Credit Spread', credit], ['Credit Spread 20D MA', credit20], ['Credit Spread 50D MA', credit50], ['Credit Spread 200D MA', credit200]] },
  { title: 'TED Spread - T5YR', left: 375, top: 357, w: 257, h: 251, xName: 'DATE', nameGap: 14, rotate: 0,
    xMin: 2008.637, xMax: 2012.96, ticks: tedTicks, fmt: fmtYear,
    yMin: 0, yMax: 5, yStep: 1, dec: 0, legend: [475, 363],
    series: [['TED Spread', ted], ['TED Spread 20D MA', ted20], ['TED Spread 50D MA', ted50], ['TED Spread 200D MA', ted200]] },
  { title: 'VIX - T5YR', left: 690, top: 357, w: 258, h: 251, xName: 'Date', nameGap: 36, rotate: 30,
    xMin: 2010.034, xMax: 2014.503, ticks: vixTicks, fmt: fmtMonth,
    yMin: 10, yMax: 50, yStep: 5, dec: 0, legend: [836, 363],
    series: [['VIX', vix], ['VIX 20D MA', vix20], ['VIX 50D MA', vix50], ['VIX 200D MA', vix200]] }
];

const TICK = { show: true, inside: true, length: 4, lineStyle: { color: '#000', width: 1 } };
const GRIDLINE = { show: true, lineStyle: { color: '#9a9a9a', width: 1, type: [1, 2] } };
const grids = [], xAxes = [], yAxes = [], series = [], titles = [], legends = [];

panels.forEach((p, i) => {
  grids.push({ left: p.left, top: p.top, width: p.w, height: p.h, containLabel: false, outerBoundsMode: 'none',
               show: true, backgroundColor: '#fff', borderColor: '#000', borderWidth: 1 });
  const xMin = toMs(p.xMin), xMax = toMs(p.xMax);
  const tickMs = p.ticks.map(toMs);
  // the date axis is a plain value axis over UTC milliseconds
  xAxes.push({
    type: 'value', gridIndex: i, position: 'bottom', min: xMin, max: xMax, scale: true,
    name: p.xName, nameLocation: 'middle', nameGap: p.nameGap,
    nameTextStyle: { fontFamily: FONT, fontSize: 8.5, color: '#111' },
    axisLine: { show: false },
    axisTick: Object.assign({ customValues: tickMs }, TICK),
    axisLabel: { customValues: tickMs, formatter: p.fmt, rotate: p.rotate, margin: p.rotate ? 6 : 5,
                 fontFamily: FONT, fontSize: 8.5, color: '#111', hideOverlap: false },
    splitLine: GRIDLINE
  });
  xAxes.push({
    type: 'value', gridIndex: i, position: 'top', min: xMin, max: xMax, scale: true,
    axisLine: { show: false }, axisTick: Object.assign({ customValues: tickMs }, TICK),
    axisLabel: { show: false, customValues: tickMs }, splitLine: { show: false }
  });
  const yBase = { type: 'value', gridIndex: i, min: p.yMin, max: p.yMax, interval: p.yStep, axisLine: { show: false } };
  yAxes.push(Object.assign({}, yBase, {
    position: 'left', axisTick: TICK,
    axisLabel: { formatter: v => v.toFixed(p.dec), margin: 5, fontFamily: FONT, fontSize: 8.5, color: '#111' },
    splitLine: GRIDLINE
  }));
  yAxes.push(Object.assign({}, yBase, {
    position: 'right', axisTick: TICK, axisLabel: { show: false }, splitLine: { show: false }
  }));
  p.series.forEach((s, k) => {
    const st = LINE_STYLES[k];
    series.push({
      type: 'line', name: s[0], data: pts(s[1]), xAxisIndex: 2 * i, yAxisIndex: 2 * i,
      symbol: 'none', showSymbol: false, animation: false, silent: true, clip: true,
      color: st.color, z: 2 + k,
      lineStyle: { color: st.color, width: st.width, type: st.type, opacity: st.opacity },
      emphasis: { disabled: true }
    });
  });
  titles.push({
    text: p.title, left: p.left + p.w / 2, top: p.top - 14, textAlign: 'center', padding: 0,
    textStyle: { fontFamily: FONT, fontWeight: 'bold', fontSize: 10.5, color: '#000', lineHeight: 13 }
  });
  legends.push({
    data: p.series.map(s => s[0]), orient: 'vertical', left: p.legend[0], top: p.legend[1],
    padding: [3, 8, 3, 7], itemGap: 3.5, itemWidth: 16, itemHeight: 12,
    backgroundColor: '#fff', borderColor: '#000', borderWidth: 1, borderRadius: 0,
    selectedMode: false, z: 20,
    itemStyle: { opacity: 0 },
    textStyle: { fontFamily: FONT, fontSize: 10.5, color: '#111', lineHeight: 12, padding: [0, 0, 0, 6] }
  });
});

const chart = echarts.init(document.getElementById('chart'), null, { renderer: 'canvas' });
chart.setOption({
  animation: false,
  backgroundColor: 'transparent',
  textStyle: { fontFamily: FONT },
  title: titles,
  legend: legends,
  grid: grids,
  xAxis: xAxes,
  yAxis: yAxes,
  series: series
});
</script>
</body>
</html>
